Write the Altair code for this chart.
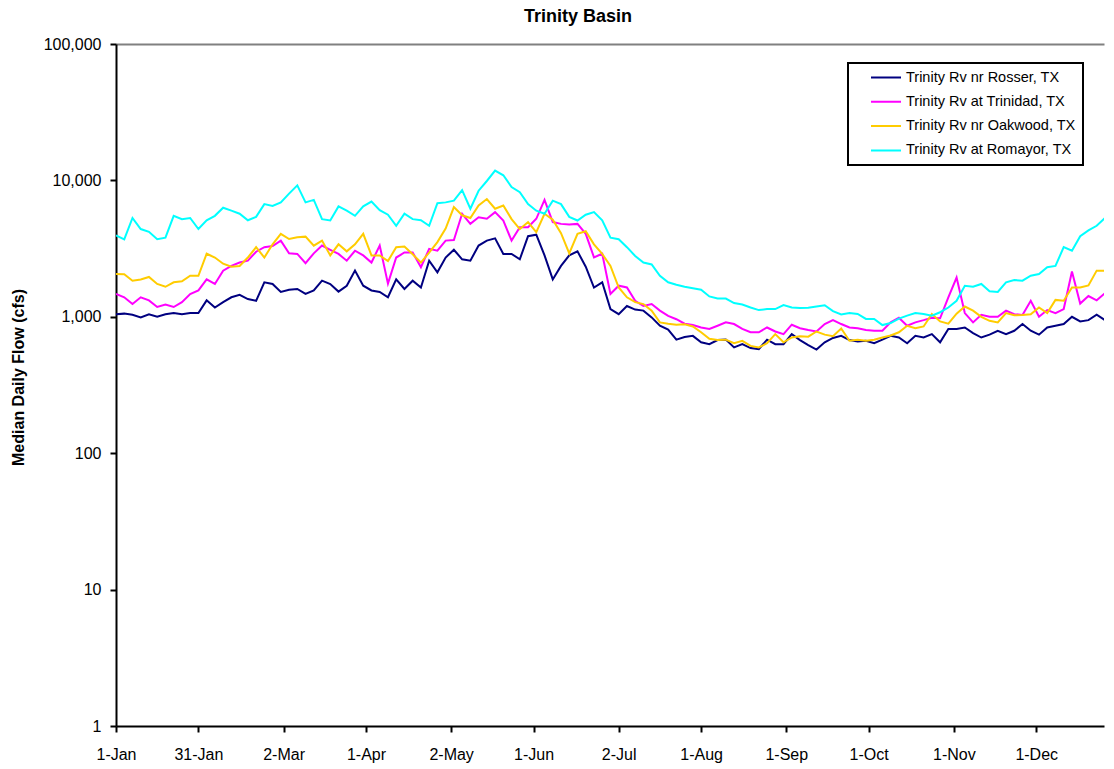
import altair as alt
import pandas as pd

# Day offsets from 1 January (leap year 2000 calendar), sampled every 3 days
days = list(range(0, 364, 3)) + [365]

rosser = [1045, 1055, 1035, 990, 1045, 1000, 1045, 1065, 1045, 1065, 1065, 1320, 1170, 1280, 1390, 1450, 1350, 1310, 1790, 1740, 1520,
          1580, 1600, 1470, 1560, 1840, 1740, 1530, 1690, 2180, 1690, 1560, 1520, 1390, 1880, 1600, 1840, 1640, 2580, 2120, 2720,
          3100, 2640, 2580, 3330, 3620, 3760, 2890, 2890, 2640, 3900, 4000, 2820, 1880, 2360, 2820, 3020, 2330, 1640, 1790, 1140,
          1045, 1200, 1130, 1110, 990, 860, 805, 680, 710, 725, 650, 630, 675, 680, 596, 630, 590, 580, 680, 630,
          630, 746, 675, 620, 575, 650, 700, 725, 675, 660, 667, 640, 680, 725, 705, 640, 725, 705, 746, 650,
          815, 815, 835, 760, 705, 740, 790, 746, 790, 885, 790, 740, 835, 860, 885, 1000, 925, 945, 1035, 945, 1020, 1045]

trinidad = [1470, 1390, 1240, 1390, 1320, 1180, 1230, 1180, 1280, 1470, 1560, 1880, 1740, 2180, 2360, 2500, 2580, 3000, 3240, 3300, 3620,
            2920, 2890, 2470, 2920, 3330, 3100, 2890, 2580, 3050, 2820, 2500, 3330, 1750, 2720, 2960, 2960, 2310, 3150, 3050, 3620,
            3660, 5690, 4800, 5370, 5230, 5850, 5080, 3620, 4540, 4540, 5230, 7200, 4950, 4800, 4750, 4800, 4060, 2730, 2900, 1470,
            1690, 1640, 1310, 1200, 1240, 1110, 1015, 960, 890, 870, 835, 815, 860, 910, 885, 815, 770, 770, 835, 780,
            746, 875, 825, 800, 780, 885, 945, 885, 835, 825, 800, 790, 790, 910, 985, 860, 910, 945, 985, 975,
            1390, 1940, 1065, 910, 1035, 1000, 1000, 1110, 1045, 1030, 1310, 1000, 1120, 1065, 1140, 2150, 1250, 1420, 1320, 1490, 1420, 1390]

oakwood = [2060, 2050, 1840, 1880, 1960, 1740, 1660, 1790, 1820, 2000, 2000, 2900, 2720, 2450, 2330, 2360, 2720, 3240, 2720, 3400, 4060,
           3720, 3830, 3870, 3320, 3620, 2820, 3400, 3020, 3400, 4060, 2820, 2820, 2560, 3240, 3280, 2870, 2500, 2960, 3530, 4430,
           6370, 5550, 5300, 6550, 7300, 6200, 6550, 5200, 4400, 4950, 4180, 5690, 5150, 4100, 2920, 4060, 4240, 3400, 2890, 2360,
           1640, 1390, 1280, 1240, 1110, 910, 890, 875, 880, 850, 770, 690, 675, 680, 640, 667, 612, 596, 640, 746,
           650, 705, 720, 715, 780, 740, 720, 820, 667, 680, 667, 680, 705, 730, 770, 860, 825, 850, 1050, 925,
           890, 1055, 1190, 1110, 1000, 935, 910, 1065, 1025, 1030, 1045, 1170, 1065, 1330, 1310, 1640, 1640, 1700, 2180, 2180, 1970, 1600]

romayor = [3950, 3700, 5300, 4400, 4200, 3700, 3800, 5500, 5200, 5300, 4400, 5100, 5500, 6300, 6000, 5700, 5100, 5400, 6700, 6500, 6900,
           8000, 9200, 6900, 7200, 5200, 5080, 6450, 6000, 5500, 6450, 7000, 6050, 5600, 4650, 5700, 5200, 5100, 4650, 6800, 6900,
           7100, 8480, 6200, 8400, 9900, 11800, 10900, 8930, 8200, 6700, 6000, 5690, 7100, 6700, 5400, 5080, 5600, 5850, 5100, 3800,
           3700, 3240, 2790, 2500, 2420, 2000, 1790, 1720, 1660, 1620, 1580, 1410, 1360, 1360, 1260, 1230, 1170, 1120, 1140, 1140,
           1220, 1170, 1160, 1165, 1190, 1215, 1100, 1040, 1065, 1050, 965, 965, 870, 900, 970, 1020, 1065, 1050, 1020, 1080,
           1170, 1310, 1690, 1660, 1740, 1540, 1520, 1790, 1860, 1840, 2000, 2060, 2310, 2360, 3240, 3050, 3900, 4300, 4650, 5300, 5600, 4300]

series_names = ["Trinity Rv nr Rosser, TX", "Trinity Rv at Trinidad, TX",
                "Trinity Rv nr Oakwood, TX", "Trinity Rv at Romayor, TX"]
series_colors = ["#000080", "#FF00FF", "#FFCC00", "#00FFFF"]
series_values = [rosser, trinidad, oakwood, romayor]

x_tick_dates = ["2000-01-01", "2000-01-31", "2000-03-02", "2000-04-01", "2000-05-02", "2000-06-01",
                "2000-07-02", "2000-08-01", "2000-09-01", "2000-10-01", "2000-11-01", "2000-12-01"]
y_ticks = [1, 10, 100, 1000, 10000, 100000]

start = pd.Timestamp("2000-01-01")
rows = []
for name, vals in zip(series_names, series_values):
    for d, v in zip(days, vals):
        rows.append({"date": (start + pd.Timedelta(days=d)).strftime("%Y-%m-%dT%H:%M:%S"),
                     "flow": v, "station": name})
df = pd.DataFrame(rows)

x_domain = ["2000-01-01T00:00:00", "2000-12-25T16:00:00"]
tick_vals = [alt.DateTime(year=int(s[:4]), month=int(s[5:7]), date=int(s[8:10])) for s in x_tick_dates]

FONT = "Liberation Sans"
NBSP = "\u00a0"

chart = alt.Chart(df).mark_line(strokeWidth=2, clip=True).encode(
    x=alt.X("date:T",
            scale=alt.Scale(domain=x_domain),
            axis=alt.Axis(values=tick_vals, format="%-d-%b", title=None, grid=False,
                          labelFontSize=16, labelColor="black", labelPadding=14,
                          tickSize=6, tickWidth=2, tickColor="black",
                          domainColor="black", domainWidth=2, labelFlush=False)),
    y=alt.Y("flow:Q",
            scale=alt.Scale(type="log", domain=[1, 100000]),
            axis=alt.Axis(values=y_ticks, format=",", title="Median Daily Flow (cfs)",
                          titleFontSize=16, titleFontWeight="bold", titleColor="black",
                          titlePadding=17, titleY=333,
                          labelFontSize=16, labelColor="black", labelPadding=9,
                          tickSize=6, tickWidth=2, tickColor="black",
                          domainColor="black", domainWidth=2,
                          grid=True, gridColor="#808080", gridWidth=2,
                          gridOpacity={"condition": {"test": "datum.value >= 100000", "value": 1}, "value": 0})),
    color=alt.Color("station:N",
                    scale=alt.Scale(domain=series_names, range=series_colors),
                    sort=series_names,
                    legend=alt.Legend(title=None, orient="none", legendX=732, legendY=19,
                                      symbolType="stroke", symbolSize=900, symbolStrokeWidth=2,
                                      labelFontSize=14.5, labelColor="black", labelFont=FONT,
                                      labelLimit=400, clipHeight=15,
                                      labelOffset=4, symbolOffset=15, padding=7, rowPadding=8.3,
                                      strokeColor="black", fillColor="white",
                                      labelExpr="datum.label + '" + NBSP * 3 + "'")),
).properties(
    width=988,
    height=682,
    title=alt.TitleParams("Trinity Basin", fontSize=18, fontWeight="bold", font=FONT,
                          color="black", anchor="middle", dx=-32, offset=10),
    autosize=alt.AutoSizeParams(type="none"),
    padding={"left": 108, "top": 36, "right": 2, "bottom": 40},
).configure(
    font=FONT,
).configure_view(
    stroke=None
).configure_legend(
    strokeWidth=2
)

chart.save("out.html", embed_options={"renderer": "svg", "actions": False})
